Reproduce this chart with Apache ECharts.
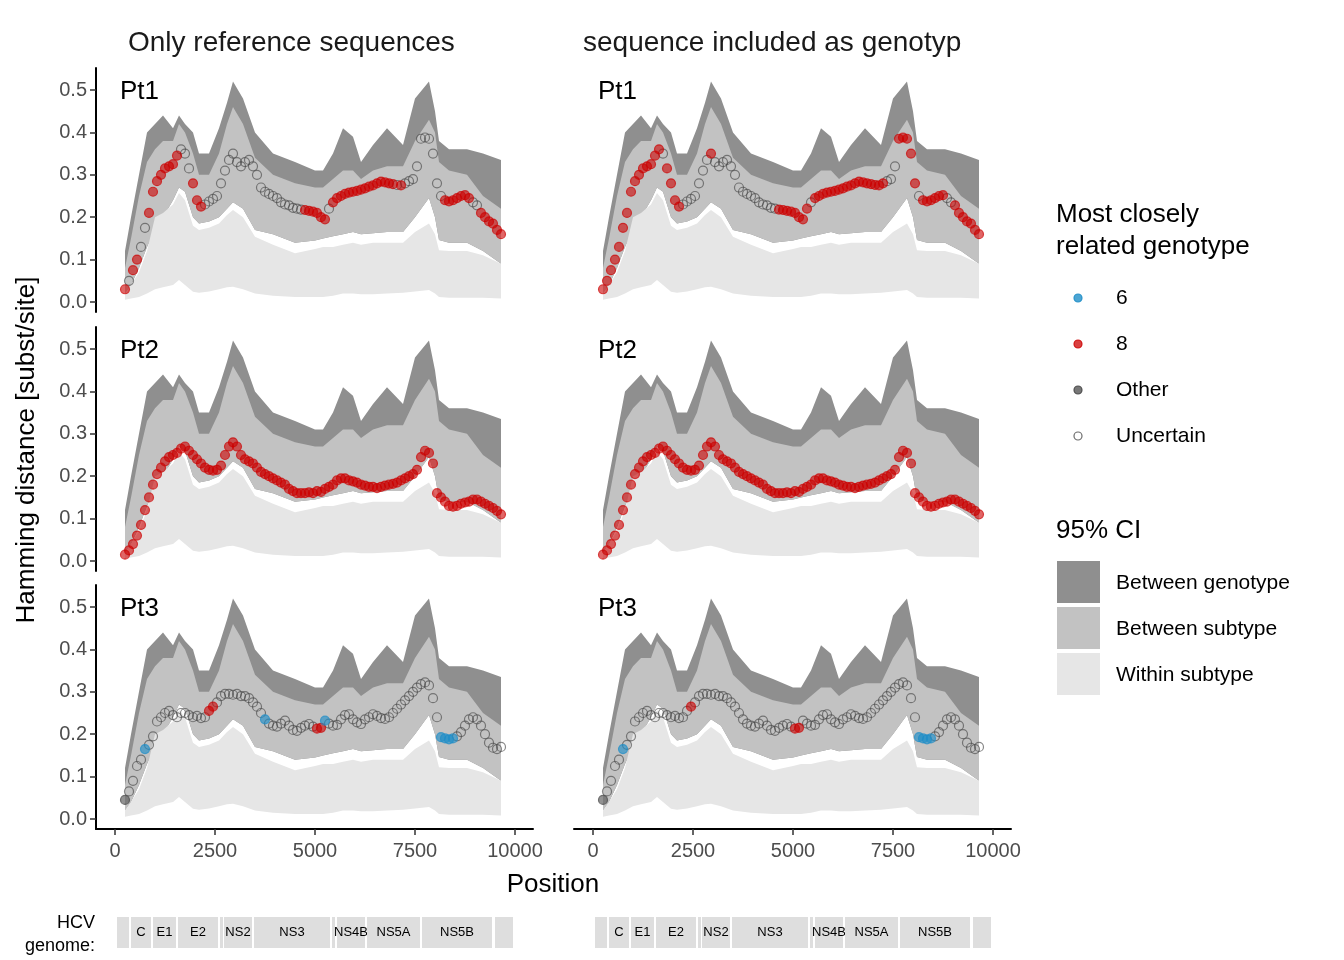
<!DOCTYPE html>
<html>
<head>
<meta charset="utf-8">
<script src="https://cdn.jsdelivr.net/npm/echarts@6/dist/echarts.min.js"></script>
<style>
  html, body { margin: 0; padding: 0; background: #fff; }
  #chart { width: 1344px; height: 960px; }
</style>
</head>
<body>
<div id="chart"></div>
<script>
// ---- data ----
const bandPos = [250, 400, 600, 800, 1000, 1200, 1450, 1600, 1750, 1950, 2100, 2350, 2600, 2800, 2950, 3200, 3500, 3950, 4500, 5000, 5200, 5450, 5700, 5950, 6150, 6450, 6800, 7200, 7500, 7850, 8000, 8100, 8350, 8800, 9200, 9650];
const genotypeHi = [0.12, 0.2, 0.3, 0.4, 0.42, 0.44, 0.41, 0.44, 0.42, 0.4, 0.35, 0.35, 0.41, 0.47, 0.52, 0.48, 0.4, 0.35, 0.33, 0.31, 0.31, 0.35, 0.41, 0.39, 0.33, 0.37, 0.41, 0.37, 0.48, 0.52, 0.45, 0.38, 0.36, 0.36, 0.35, 0.335];
const subtypeHi = [0.08, 0.15, 0.25, 0.33, 0.36, 0.38, 0.38, 0.42, 0.4, 0.35, 0.3, 0.3, 0.35, 0.42, 0.46, 0.42, 0.34, 0.3, 0.28, 0.27, 0.27, 0.29, 0.31, 0.31, 0.29, 0.31, 0.32, 0.32, 0.38, 0.43, 0.4, 0.33, 0.31, 0.3, 0.25, 0.22];
const subtypeLo = [0.02, 0.04, 0.08, 0.13, 0.17, 0.2, 0.24, 0.27, 0.26, 0.2, 0.185, 0.19, 0.2, 0.22, 0.235, 0.22, 0.17, 0.16, 0.14, 0.145, 0.15, 0.155, 0.16, 0.165, 0.16, 0.162, 0.165, 0.165, 0.2, 0.245, 0.2, 0.146, 0.14, 0.14, 0.12, 0.09];
const withinHi = [0.02, 0.04, 0.07, 0.12, 0.2, 0.21, 0.23, 0.257, 0.24, 0.18, 0.17, 0.175, 0.185, 0.205, 0.217, 0.2, 0.154, 0.135, 0.115, 0.125, 0.13, 0.13, 0.135, 0.14, 0.135, 0.14, 0.14, 0.14, 0.165, 0.185, 0.16, 0.122, 0.12, 0.12, 0.11, 0.09];
const withinLo = [0.005, 0.008, 0.012, 0.02, 0.03, 0.035, 0.04, 0.052, 0.04, 0.024, 0.022, 0.025, 0.03, 0.035, 0.036, 0.03, 0.02, 0.015, 0.012, 0.012, 0.012, 0.015, 0.02, 0.02, 0.018, 0.018, 0.02, 0.022, 0.025, 0.028, 0.02, 0.012, 0.01, 0.01, 0.01, 0.008];

// query windows start at 250 and step by 100
const windowStart = 250, windowStep = 100;
const pt1Dist = [0.03, 0.05, 0.075, 0.10, 0.13, 0.175, 0.21, 0.26, 0.285, 0.30, 0.315, 0.32, 0.325, 0.345, 0.36, 0.35, 0.315, 0.28, 0.24, 0.225,
  0.23, 0.237, 0.243, 0.25, 0.28, 0.31, 0.335, 0.35, 0.33, 0.32, 0.33, 0.335, 0.32, 0.30, 0.27, 0.26, 0.255, 0.25, 0.245, 0.235,
  0.23, 0.228, 0.222, 0.22, 0.218, 0.217, 0.215, 0.213, 0.21, 0.2, 0.195, 0.22, 0.235, 0.245, 0.25, 0.255, 0.258, 0.26, 0.262, 0.265,
  0.268, 0.272, 0.275, 0.28, 0.284, 0.282, 0.28, 0.278, 0.276, 0.275, 0.28, 0.285, 0.29, 0.32, 0.385, 0.388, 0.385, 0.35, 0.28, 0.25,
  0.24, 0.237, 0.24, 0.245, 0.25, 0.252, 0.245, 0.235, 0.228, 0.21, 0.2, 0.19, 0.185, 0.17, 0.16];
const pt2Dist = [0.015, 0.025, 0.04, 0.06, 0.085, 0.12, 0.15, 0.18, 0.205, 0.22, 0.235, 0.245, 0.25, 0.255, 0.265, 0.27, 0.26, 0.25, 0.24, 0.23,
  0.22, 0.215, 0.213, 0.215, 0.225, 0.25, 0.27, 0.28, 0.27, 0.25, 0.24, 0.235, 0.23, 0.22, 0.21, 0.205, 0.2, 0.195, 0.19, 0.185,
  0.18, 0.17, 0.165, 0.16, 0.16, 0.16, 0.162, 0.16, 0.165, 0.163, 0.17, 0.175, 0.18, 0.19, 0.195, 0.195, 0.19, 0.188, 0.185, 0.18,
  0.178, 0.175, 0.175, 0.172, 0.175, 0.178, 0.18, 0.182, 0.185, 0.19, 0.195, 0.2, 0.205, 0.215, 0.245, 0.26, 0.255, 0.23, 0.16, 0.15,
  0.14, 0.13, 0.128, 0.13, 0.135, 0.138, 0.14, 0.145, 0.145, 0.14, 0.135, 0.13, 0.125, 0.118, 0.11];
const pt3Dist = [0.045, 0.065, 0.09, 0.125, 0.14, 0.165, 0.175, 0.195, 0.23, 0.24, 0.25, 0.255, 0.245, 0.24, 0.25, 0.25, 0.245, 0.24, 0.243, 0.238,
  0.24, 0.255, 0.265, 0.275, 0.29, 0.295, 0.295, 0.293, 0.295, 0.29, 0.29, 0.285, 0.275, 0.265, 0.25, 0.235, 0.225, 0.22, 0.218, 0.225,
  0.232, 0.22, 0.21, 0.208, 0.215, 0.22, 0.224, 0.218, 0.213, 0.215, 0.232, 0.225, 0.22, 0.222, 0.235, 0.245, 0.247, 0.235, 0.228, 0.224,
  0.235, 0.24, 0.247, 0.243, 0.238, 0.236, 0.24, 0.25, 0.26, 0.27, 0.28, 0.29, 0.3, 0.31, 0.318, 0.322, 0.315, 0.285, 0.24, 0.193,
  0.19, 0.188, 0.19, 0.195, 0.205, 0.22, 0.235, 0.24, 0.235, 0.22, 0.2, 0.18, 0.168, 0.165, 0.17];

// genotype calls as runs of [class, count]
const pt1LeftCalls = [['8',1],['U',1],['8',2],['U',2],['8',8],['U',3],['8',3],['U',25],['8',6],['U',1],['8',16],['U',1],['8',1],['U',10],['8',7],['U',2],['8',6]];
const pt1RightCalls = [['8',15],['U',1],['8',4],['U',7],['8',1],['U',16],['8',8],['U',1],['8',18],['U',3],['8',5],['U',1],['8',6],['U',2],['8',7]];
const pt2Calls = [['8',95]];
const pt3LeftCalls = [['O',1],['U',4],['6',1],['U',15],['8',2],['U',12],['6',1],['U',12],['8',2],['6',1],['U',28],['6',4],['U',12]];
const pt3RightCalls = [['O',1],['U',4],['6',1],['U',16],['8',1],['U',25],['8',2],['U',29],['6',4],['U',12]];

const genomeRegions = ["5'UTR", 'C', 'E1', 'E2', 'p7', 'NS2', 'NS3', 'NS4A', 'NS4B', 'NS5A', 'NS5B', "3'UTR"];
const genomeStart = [50, 400, 950, 1575, 2625, 2725, 3475, 5425, 5550, 6300, 7675, 9500];
const genomeEnd = [350, 900, 1525, 2575, 2700, 3425, 5375, 5500, 6250, 7625, 9425, 9950];
const showRegionLabel = [false, true, true, true, false, true, true, false, true, true, true, false];

const yTicks = [0, 0.1, 0.2, 0.3, 0.4, 0.5];
const xTicks = [0, 2500, 5000, 7500, 10000];

// ---- chart ----
const chart = echarts.init(document.getElementById('chart'));

const classStyle = {
  '6': { name: '6', color: 'rgba(31,142,200,0.8)', border: 'rgba(31,142,200,0.9)' },
  '8': { name: '8', color: 'rgba(204,0,0,0.75)', border: 'rgba(204,0,0,0.85)' },
  'O': { name: 'Other', color: 'rgba(85,85,85,0.8)', border: 'rgba(70,70,70,0.9)' },
  'U': { name: 'Uncertain', color: 'rgba(255,255,255,0)', border: 'rgba(70,70,70,0.8)' }
};

function expandCalls(runs) {
  const out = [];
  runs.forEach(([c, n]) => { for (let k = 0; k < n; k++) out.push(c); });
  return out;
}

const ribbons = [
  { lo: subtypeLo, hi: genotypeHi, color: '#8f8f8f' },
  { lo: subtypeLo, hi: subtypeHi, color: '#c2c2c2' },
  { lo: withinLo, hi: withinHi, color: '#e6e6e6' }
];

function renderRibbon(params, api) {
  const r = ribbons[api.value(0)];
  const pts = [];
  bandPos.forEach((x, j) => pts.push(api.coord([x, r.hi[j]])));
  for (let j = bandPos.length - 1; j >= 0; j--) pts.push(api.coord([bandPos[j], r.lo[j]]));
  return { type: 'polygon', shape: { points: pts }, style: { fill: r.color } };
}

const panels = [
  { dist: pt1Dist, calls: pt1LeftCalls, col: 0, row: 0, label: 'Pt1' },
  { dist: pt1Dist, calls: pt1RightCalls, col: 1, row: 0, label: 'Pt1' },
  { dist: pt2Dist, calls: pt2Calls, col: 0, row: 1, label: 'Pt2' },
  { dist: pt2Dist, calls: pt2Calls, col: 1, row: 1, label: 'Pt2' },
  { dist: pt3Dist, calls: pt3LeftCalls, col: 0, row: 2, label: 'Pt3' },
  { dist: pt3Dist, calls: pt3RightCalls, col: 1, row: 2, label: 'Pt3' }
];

const colLeft = [96, 574];
const rowTop = [68, 327, 585];
const grids = [], xAxes = [], yAxes = [], series = [];
const tickFont = { fontSize: 20, color: '#4d4d4d', fontFamily: 'Liberation Sans, Arial' };

panels.forEach((p, i) => {
  grids.push({ left: colLeft[p.col], top: rowTop[p.row], width: 437, height: 244 });
  const bottom = p.row === 2;
  xAxes.push({
    gridIndex: i, type: 'value', min: -475, max: 10450,
    axisLine: { show: bottom, onZero: false, lineStyle: { color: '#000', width: 2 } },
    axisTick: { show: bottom, customValues: xTicks, length: 6, lineStyle: { color: '#333', width: 1.5 } },
    axisLabel: { show: bottom, customValues: xTicks, margin: 12, formatter: v => String(v), ...tickFont },
    splitLine: { show: false }
  });
  const left = p.col === 0;
  yAxes.push({
    gridIndex: i, type: 'value', min: -0.0236, max: 0.5519,
    axisLine: { show: left, onZero: false, lineStyle: { color: '#000', width: 2 } },
    axisTick: { show: left, customValues: yTicks, length: 6, lineStyle: { color: '#333', width: 1.5 } },
    axisLabel: { show: left, customValues: yTicks, margin: 9, formatter: v => v.toFixed(1), ...tickFont },
    splitLine: { show: false }
  });

  series.push({
    type: 'custom', xAxisIndex: i, yAxisIndex: i, silent: true, z: 1,
    data: [[0], [1], [2]], renderItem: renderRibbon
  });

  const calls = expandCalls(p.calls);
  ['U', 'O', '8', '6'].forEach(c => {
    const st = classStyle[c];
    const pts = [];
    p.dist.forEach((d, j) => { if (calls[j] === c) pts.push([windowStart + windowStep * j, d]); });
    series.push({
      type: 'scatter', xAxisIndex: i, yAxisIndex: i, symbolSize: 9, data: pts, z: 10,
      itemStyle: { color: st.color, borderColor: st.border, borderWidth: 1.2 }
    });
  });
});

// genome bars under each column
[0, 1].forEach(c => {
  const gi = grids.length;
  grids.push({ left: colLeft[c], top: 917, width: 437, height: 31 });
  xAxes.push({ gridIndex: gi, type: 'value', min: -475, max: 10450, show: false });
  yAxes.push({ gridIndex: gi, type: 'value', min: 0, max: 1, show: false });
  series.push({
    type: 'custom', xAxisIndex: gi, yAxisIndex: gi, silent: true,
    data: genomeRegions.map((n, j) => [genomeStart[j], genomeEnd[j], j]),
    renderItem: (params, api) => {
      const j = api.value(2);
      const p0 = api.coord([api.value(0), 1]);
      const p1 = api.coord([api.value(1), 0]);
      const children = [{
        type: 'rect', shape: { x: p0[0], y: p0[1], width: p1[0] - p0[0], height: p1[1] - p0[1] },
        style: { fill: '#dedede' }
      }];
      if (showRegionLabel[j]) {
        children.push({
          type: 'text', x: (p0[0] + p1[0]) / 2, y: (p0[1] + p1[1]) / 2,
          style: { text: genomeRegions[j], fontSize: 13, fill: '#000', align: 'center', verticalAlign: 'middle', fontFamily: 'Liberation Sans, Arial' }
        });
      }
      return { type: 'group', children: children };
    }
  });
});

const ff = 'Liberation Sans, Arial';
const graphics = [
  { type: 'text', left: 128, top: 29, style: { text: 'Only reference sequences', fontSize: 28, fill: '#1a1a1a', fontFamily: ff } },
  { type: 'text', left: 583, top: 29, style: { text: 'sequence included as genotyp', fontSize: 28, fill: '#1a1a1a', fontFamily: ff } },
  { type: 'text', x: 27, y: 450, rotation: Math.PI / 2, style: { text: 'Hamming distance [subst/site]', fontSize: 26, fill: '#000', align: 'center', verticalAlign: 'middle', fontFamily: ff } },
  { type: 'text', x: 553, y: 885, style: { text: 'Position', fontSize: 26, fill: '#000', align: 'center', verticalAlign: 'middle', fontFamily: ff } },
  { type: 'text', x: 95, y: 923, style: { text: 'HCV', fontSize: 18, fill: '#000', align: 'right', verticalAlign: 'middle', fontFamily: ff } },
  { type: 'text', x: 95, y: 946, style: { text: 'genome:', fontSize: 18, fill: '#000', align: 'right', verticalAlign: 'middle', fontFamily: ff } },
  { type: 'text', x: 1056, y: 215, style: { text: 'Most closely', fontSize: 26, fill: '#000', verticalAlign: 'middle', fontFamily: ff } },
  { type: 'text', x: 1056, y: 247, style: { text: 'related genotype', fontSize: 26, fill: '#000', verticalAlign: 'middle', fontFamily: ff } },
  { type: 'text', x: 1056, y: 531, style: { text: '95% CI', fontSize: 26, fill: '#000', verticalAlign: 'middle', fontFamily: ff } }
];
panels.forEach(p => {
  graphics.push({ type: 'text', x: colLeft[p.col] + 24, y: rowTop[p.row] + 24, style: { text: p.label, fontSize: 26, fill: '#000', verticalAlign: 'middle', fontFamily: ff } });
});
['6', '8', 'O', 'U'].forEach((c, k) => {
  const st = classStyle[c];
  const y = 298 + k * 46;
  graphics.push({ type: 'circle', shape: { cx: 1078, cy: y, r: 4 }, style: { fill: st.color, stroke: st.border, lineWidth: 1.2 } });
  graphics.push({ type: 'text', x: 1116, y: y, style: { text: st.name, fontSize: 21, fill: '#000', verticalAlign: 'middle', fontFamily: ff } });
});
[['Between genotype', '#8f8f8f'], ['Between subtype', '#c2c2c2'], ['Within subtype', '#e6e6e6']].forEach(([t, col], k) => {
  const y = 561 + k * 46;
  graphics.push({ type: 'rect', shape: { x: 1057, y: y, width: 43, height: 42 }, style: { fill: col } });
  graphics.push({ type: 'text', x: 1116, y: y + 22, style: { text: t, fontSize: 21, fill: '#000', verticalAlign: 'middle', fontFamily: ff } });
});
graphics.forEach(g => { g.z = 100; });

chart.setOption({
  animation: false,
  grid: grids,
  xAxis: xAxes,
  yAxis: yAxes,
  series: series,
  graphic: { elements: graphics }
});
</script>
</body>
</html>
